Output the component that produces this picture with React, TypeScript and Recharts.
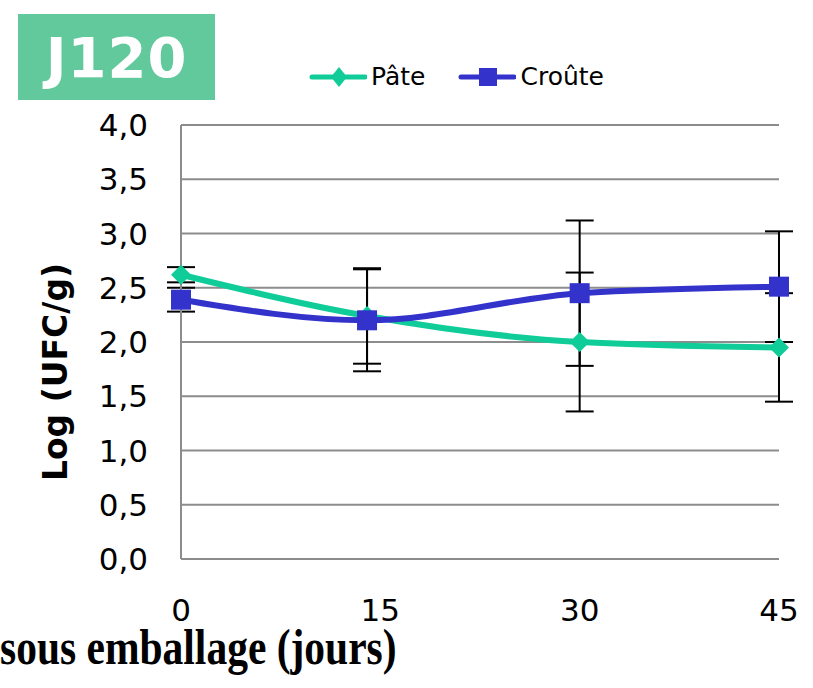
import { CartesianGrid, ErrorBar, Line, LineChart, XAxis, YAxis } from 'recharts';

const days = [0, 14, 30, 45];
const pateValues = [2.62, 2.24, 2.0, 1.95];
const pateErrors = [0.07, 0.44, 0.64, 0.5];
const crouteValues = [2.39, 2.2, 2.45, 2.51];
const crouteErrors = [0.11, 0.47, 0.67, 0.51];
const xTicks = [0, 15, 30, 45];
const yTicks = [0, 0.5, 1, 1.5, 2, 2.5, 3, 3.5, 4];

const PATE = '#0fcc98';
const CROUTE = '#3333cc';
const GRID = '#8c8c8c';
const SANS = '"DejaVu Sans", Verdana, sans-serif';

const data = days.map((day, i) => ({
  day,
  pate: pateValues[i],
  pateErr: pateErrors[i],
  croute: crouteValues[i],
  crouteErr: crouteErrors[i],
}));

function Diamond(props: any) {
  const { cx, cy, index } = props;
  const r = 10;
  return (
    <path
      key={`d-${index}`}
      d={`M${cx},${cy - r}L${cx + r},${cy}L${cx},${cy + r}L${cx - r},${cy}Z`}
      fill={PATE}
    />
  );
}

function Square(props: any) {
  const { cx, cy, index } = props;
  const s = 10;
  return <rect key={`s-${index}`} x={cx - s} y={cy - s} width={s * 2} height={s * 2} fill={CROUTE} />;
}

const legendItems = [
  { name: 'Pâte', color: PATE, shape: 'diamond' },
  { name: 'Croûte', color: CROUTE, shape: 'square' },
];

function ChartLegend() {
  return (
    <div
      style={{
        position: 'absolute',
        left: 309,
        top: 62,
        display: 'flex',
        alignItems: 'center',
        fontFamily: SANS,
        fontSize: 25,
      }}
    >
      {legendItems.map((it) => (
        <div key={it.name} style={{ display: 'flex', alignItems: 'center', marginRight: 33 }}>
          <svg width={58} height={24}>
            <line x1={3} y1={12} x2={56} y2={12} stroke={it.color} strokeWidth={5} strokeLinecap="round" />
            {it.shape === 'diamond' ? (
              <path d="M30,2L38,12L30,22L22,12Z" fill={it.color} />
            ) : (
              <rect x={21} y={3} width={18} height={18} fill={it.color} />
            )}
          </svg>
          <span style={{ marginLeft: 4 }}>{it.name}</span>
        </div>
      ))}
    </div>
  );
}

function YLabel() {
  return (
    <text
      x={55}
      y={372}
      transform="rotate(-90 55 372)"
      textAnchor="middle"
      dominantBaseline="central"
      fontFamily={SANS}
      fontWeight="bold"
      fontSize={33}
      fill="#000"
    >
      Log (UFC/g)
    </text>
  );
}

export default function App() {
  return (
    <div style={{ position: 'absolute', left: 0, top: 0, width: 813, height: 688, background: '#fff', overflow: 'hidden' }}>
      <div
        style={{
          position: 'absolute',
          left: 18,
          top: 14,
          width: 197,
          height: 86,
          background: '#62c99d',
          color: '#fff',
          fontFamily: SANS,
          fontWeight: 'bold',
          fontSize: 56,
          display: 'flex',
          alignItems: 'center',
          justifyContent: 'center',
          letterSpacing: 1,
        }}
      >
        J120
      </div>
      <ChartLegend />
      <LineChart width={813} height={688} data={data} margin={{ top: 125, right: 34, bottom: 0, left: 0 }}>
        <CartesianGrid vertical={false} stroke={GRID} strokeWidth={2} />
        <XAxis
          dataKey="day"
          type="number"
          domain={[0, 45]}
          ticks={xTicks}
          height={129}
          axisLine={false}
          tickLine={false}
          tickSize={0}
          tickMargin={40}
          tick={{ fill: '#000', fontSize: 31, fontFamily: SANS }}
        />
        <YAxis
          width={181}
          domain={[0, 4]}
          ticks={yTicks}
          axisLine={{ stroke: GRID, strokeWidth: 2 }}
          tickLine={false}
          tickSize={0}
          tickMargin={33}
          tick={{ fill: '#000', fontSize: 31, fontFamily: SANS }}
          tickFormatter={(v: number) => v.toFixed(1).replace('.', ',')}
          label={<YLabel />}
        />
        <Line
          dataKey="pate"
          name="Pâte"
          type="monotone"
          stroke={PATE}
          strokeWidth={6}
          dot={Diamond}
          activeDot={false}
          isAnimationActive={false}
        >
          <ErrorBar dataKey="pateErr" direction="y" width={14} stroke="#000" strokeWidth={2} />
        </Line>
        <Line
          dataKey="croute"
          name="Croûte"
          type="monotone"
          stroke={CROUTE}
          strokeWidth={6}
          dot={Square}
          activeDot={false}
          isAnimationActive={false}
        >
          <ErrorBar dataKey="crouteErr" direction="y" width={14} stroke="#000" strokeWidth={2} />
        </Line>
      </LineChart>
      <div
        style={{
          position: 'absolute',
          left: 0,
          top: 627,
          whiteSpace: 'nowrap',
          fontFamily: '"Liberation Serif", "Times New Roman", serif',
          fontWeight: 'bold',
          fontSize: 50,
          lineHeight: '40px',
          transform: 'scaleX(0.83)',
          transformOrigin: 'left top',
        }}
      >
        sous emballage (jours)
      </div>
    </div>
  );
}
